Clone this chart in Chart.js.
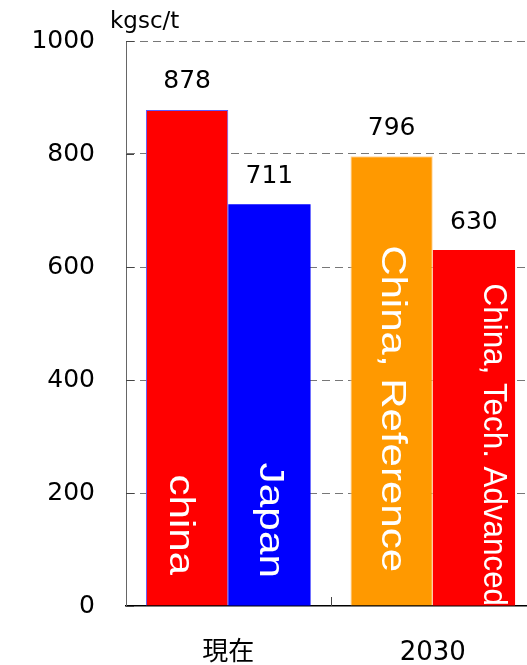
<!DOCTYPE html>
<html>
<head>
<meta charset="utf-8">
<script src="https://cdn.jsdelivr.net/npm/chart.js@4"></script>
<style>
  html, body { margin: 0; padding: 0; background: #fff; overflow: hidden; }
  #wrap { width: 527px; height: 665px; overflow: hidden; }
  #chart { display: block; margin-top: -5px; }
</style>
</head>
<body>
<div id="wrap"><canvas id="chart" width="535" height="670"></canvas></div>
<script>
// values
const periods = ['現在', '2030'];
const firstBars = [878, 796];
const secondBars = [711, 630];
const firstNames = ['china', 'China, Reference'];
const secondNames = ['Japan', 'China, Tech. Advanced'];
const yTicks = [0, 200, 400, 600, 800, 1000];
const unitLabel = 'kgsc/t';

// placement of the upright names inside each bar [dataset][category]
const nameStyles = [
  [{ size: 35, stretch: 1.2, dx: -17, gap: 31 }, { size: 35, stretch: 1.2, dx: -10, gap: 34 }],
  [{ size: 35, stretch: 1.21, dx: -9, gap: 28 }, { size: 33, stretch: 0.95, dx: 10, gap: 0 }]
];

const NUM_FONT = '"DejaVu Sans", sans-serif';

const barText = {
  id: 'barText',
  afterDatasetsDraw(chart) {
    const ctx = chart.ctx;
    const area = chart.chartArea;
    const names = [firstNames, secondNames];

    chart.data.datasets.forEach((ds, i) => {
      chart.getDatasetMeta(i).data.forEach((bar, j) => {
        const st = nameStyles[i][j];
        // names written downwards inside the bar
        ctx.save();
        ctx.beginPath();
        ctx.rect(area.left, area.top, area.right - area.left, area.bottom - area.top);
        ctx.clip();
        ctx.translate(bar.x + st.dx, area.bottom - st.gap);
        ctx.rotate(Math.PI / 2);
        ctx.scale(st.stretch, 1);
        ctx.font = st.size + 'px "Liberation Sans", Arial, sans-serif';
        ctx.fillStyle = '#fff';
        ctx.textAlign = 'right';
        ctx.textBaseline = 'alphabetic';
        ctx.fillText(names[i][j], 0, 0);
        ctx.restore();

        // value on top
        ctx.save();
        ctx.font = '25px ' + NUM_FONT;
        ctx.fillStyle = '#000';
        ctx.textAlign = 'center';
        ctx.textBaseline = 'middle';
        ctx.fillText(String(ds.data[j]), bar.x, bar.y - 28);
        ctx.restore();
      });
    });

    // inward ticks on the value axis
    const y = chart.scales.y;
    const x = chart.scales.x;
    ctx.save();
    ctx.strokeStyle = '#444';
    ctx.lineWidth = 1;
    yTicks.forEach(v => {
      const py = Math.round(y.getPixelForValue(v)) + 0.5;
      ctx.beginPath();
      ctx.moveTo(area.left, py);
      ctx.lineTo(area.left + 8, py);
      ctx.stroke();
    });
    // tick between the two periods
    const px = Math.round(x.getPixelForValue(0.5)) + 0.5;
    ctx.beginPath();
    ctx.moveTo(px, area.bottom);
    ctx.lineTo(px, area.bottom - 9);
    ctx.stroke();
    ctx.restore();

    // unit
    ctx.save();
    ctx.font = '23px ' + NUM_FONT;
    ctx.fillStyle = '#000';
    ctx.textAlign = 'left';
    ctx.textBaseline = 'alphabetic';
    ctx.fillText(unitLabel, 110, 33);
    ctx.restore();
  }
};

new Chart(document.getElementById('chart'), {
  type: 'bar',
  data: {
    labels: periods,
    datasets: [
      {
        data: firstBars,
        backgroundColor: ['#ff0000', '#ff9900'],
        borderColor: ['#5a5aff', '#ffd49a'],
        borderWidth: 1
      },
      {
        data: secondBars,
        backgroundColor: ['#0000ff', '#ff0000'],
        borderWidth: 0
      }
    ]
  },
  options: {
    responsive: false,
    animation: false,
    layout: { padding: { top: 37, left: 0, right: 0, bottom: 0 } },
    datasets: { bar: { categoryPercentage: 0.805, barPercentage: 1 } },
    plugins: { legend: { display: false }, tooltip: { enabled: false } },
    scales: {
      x: {
        grid: { display: false },
        border: { display: true, color: '#000', width: 1.5 },
        ticks: {
          color: '#000',
          padding: 24,
          font: { family: '"DejaVu Sans", "Noto Sans CJK JP", sans-serif', size: 26 }
        },
        afterFit(s) { s.height = 59; }
      },
      y: {
        min: 0,
        max: 1000,
        afterBuildTicks(s) { s.ticks = yTicks.map(v => ({ value: v })); },
        grid: {
          drawTicks: false,
          color: c => (c.tick && c.tick.value === 0 ? 'rgba(0,0,0,0)' : '#777'),
          lineWidth: 1
        },
        border: { display: true, color: '#666', width: 1, dash: [8, 5] },
        ticks: {
          color: '#000',
          padding: 31,
          font: { family: NUM_FONT, size: 25 },
          callback: v => String(v)
        },
        afterFit(s) { s.width = 126; }
      }
    }
  },
  plugins: [barText]
});
</script>
</body>
</html>
